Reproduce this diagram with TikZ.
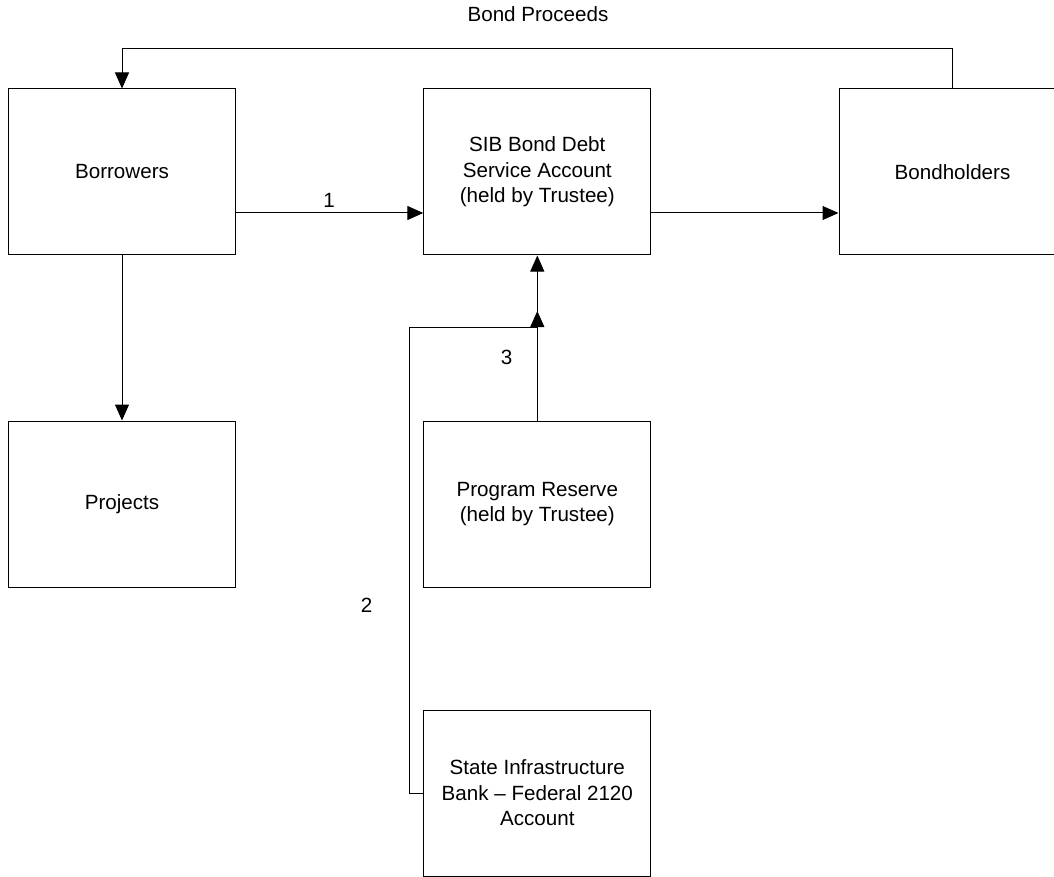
\documentclass[tikz,border=0pt]{standalone}
\usepackage{fontspec}
\setmainfont{Liberation Sans}
\usetikzlibrary{arrows.meta}
\begin{document}
\begin{tikzpicture}[x=1pt,y=-1pt,
  box/.style={draw=black,line width=1pt,rectangle,minimum width=227pt,minimum height=166pt,
    align=center,inner sep=0pt,font=\fontsize{20.6pt}{25.5pt}\selectfont},
  lbl/.style={inner sep=0pt,font=\fontsize{20.6pt}{25.5pt}\selectfont},
  conn/.style={draw=black,line width=1pt},
  arr/.style={conn,-{Triangle[length=16pt,width=14pt]}}]
\clip (0,0) rectangle (1054,877);
\fill[white] (0,0) rectangle (1054,877);
\node[box] (bo) at (122,172) {Borrowers};
\node[box] (sib) at (537.3,172) {SIB Bond Debt\\Service Account\\(held by Trustee)};
\node[box] (bh) at (952.5,172) {Bondholders};
\node[box] (pj) at (122,504) {Projects};
\node[box] (pr) at (537.3,504) {Program Reserve\\(held by Trustee)};
\node[box] (st) at (537.3,793) {State Infrastructure\\Bank – Federal 2120\\Account};
\coordinate (top) at (122,49);
\coordinate (c2) at (409,327);
\coordinate (c3) at (537.3,327);
\node[lbl] (bp) at (538,14) {Bond Proceeds};
\node[lbl] (l1) at (329,200) {1};
\node[lbl] (l3) at (506.7,357) {3};
\node[lbl] (l2) at (366.5,605.5) {2};
\draw[arr] (bh.north) |- (top) -- (bo.north);
\draw[arr] ([yshift=-41pt]bo.east) -- ([yshift=-41pt]sib.west);
\draw[arr] ([yshift=-41pt]sib.east) -- ([yshift=-41pt]bh.west);
\draw[arr] (bo.south) -- (pj.north);
\draw[arr] (pr.north) -- (sib.south);
\draw[arr] (st.west) -| (c2) -- (c3) -- ++(0,-16);
\end{tikzpicture}
\end{document}
